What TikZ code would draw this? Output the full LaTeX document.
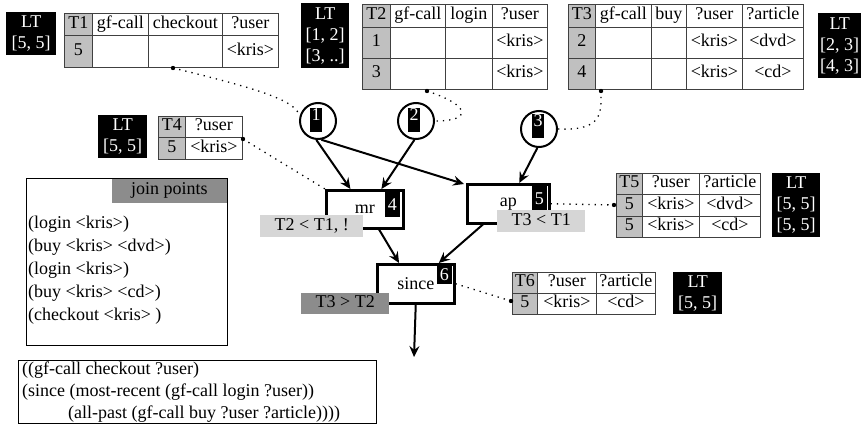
\documentclass[tikz,border=0pt]{standalone}
\usepackage{fontspec}
\setmainfont{Liberation Serif}
\usetikzlibrary{arrows.meta,calc}
\definecolor{tabgray}{HTML}{C0C0C0}
\definecolor{lightlab}{HTML}{D6D6D6}
\definecolor{darklab}{HTML}{8C8C8C}
\newcommand\cellat[7][]{\node[cellbox,#1,minimum width={#5-#3},minimum height={#6-#4}] (#2) at (#3,#4) {#7};}
\begin{document}
\begin{tikzpicture}[x=1pt,y=-1pt,
  every node/.style={font=\fontsize{18}{21}\selectfont},
  cellbox/.style={draw=black!75,line width=0.9pt,anchor=north west,inner sep=0pt,text height=12pt,text depth=4pt,fill=white},
  graycell/.style={fill=tabgray},
  ltbox/.style={fill=black,text=white,anchor=north west,inner sep=0pt,align=center},
  circ/.style={circle,draw,line width=2pt,minimum size=36pt,inner sep=0pt},
  numbox/.style={fill=black,text=white,inner sep=0pt,minimum width=12pt,text height=13pt,text depth=11pt},
  opbox/.style={draw,line width=2.5pt,anchor=north west,inner sep=0pt,fill=white},
  cornernum/.style={fill=black,text=white,anchor=north east,inner sep=0pt,minimum width=15pt,text height=14pt},
  lab/.style={anchor=north west,inner sep=0pt,text height=12pt,text depth=4pt},
  arr/.style={line width=2pt,-{Stealth[length=11pt,width=10pt,inset=4pt]}},
  dotline/.style={line width=1.3pt,dash pattern=on 1.3pt off 5pt},
  linetext/.style={anchor=base west,inner sep=0pt}
]
\path[use as bounding box,fill=white] (0,0) rectangle (861,425);

% ---------- T1 ----------
\node[ltbox,minimum width=50pt,minimum height=43pt] (lt1) at (6,12) {LT\\{}[5, 5]};
\cellat[graycell]{t1a}{64}{13}{92}{35}{T1}
\cellat{t1b}{92}{13}{148}{35}{gf-call}
\cellat{t1c}{148}{13}{222}{35}{checkout}
\cellat{t1d}{222}{13}{278}{35}{?user}
\cellat[graycell]{t1e}{64}{35}{92}{67}{5}
\cellat{t1f}{92}{35}{148}{67}{}
\cellat{t1g}{148}{35}{222}{67}{}
\cellat{t1h}{222}{35}{278}{67}{<kris>}

% ---------- T2 ----------
\node[ltbox,minimum width=48pt,minimum height=65pt] (lt2) at (301,3) {LT\\{}[1, 2]\\{}[3, ..]};
\cellat[graycell]{t2a}{362}{4}{390}{27}{T2}
\cellat{t2b}{390}{4}{445}{27}{gf-call}
\cellat{t2c}{445}{4}{492}{27}{login}
\cellat{t2d}{492}{4}{547}{27}{?user}
\cellat[graycell]{t2e}{362}{27}{390}{58}{1}
\cellat{t2f}{390}{27}{445}{58}{}
\cellat{t2g}{445}{27}{492}{58}{}
\cellat{t2h}{492}{27}{547}{58}{<kris>}
\cellat[graycell]{t2i}{362}{58}{390}{89}{3}
\cellat{t2j}{390}{58}{445}{89}{}
\cellat{t2k}{445}{58}{492}{89}{}
\cellat{t2l}{492}{58}{547}{89}{<kris>}

% ---------- T3 ----------
\cellat[graycell]{t3a}{568}{4}{595}{27}{T3}
\cellat{t3b}{595}{4}{651}{27}{gf-call}
\cellat{t3c}{651}{4}{686}{27}{buy}
\cellat{t3d}{686}{4}{742}{27}{?user}
\cellat{t3e}{742}{4}{803}{27}{?article}
\cellat[graycell]{t3f}{568}{27}{595}{58}{2}
\cellat{t3g}{595}{27}{651}{58}{}
\cellat{t3h}{651}{27}{686}{58}{}
\cellat{t3i}{686}{27}{742}{58}{<kris>}
\cellat{t3j}{742}{27}{803}{58}{<dvd>}
\cellat[graycell]{t3k}{568}{58}{595}{89}{4}
\cellat{t3l}{595}{58}{651}{89}{}
\cellat{t3m}{651}{58}{686}{89}{}
\cellat{t3n}{686}{58}{742}{89}{<kris>}
\cellat{t3o}{742}{58}{803}{89}{<cd>}
\node[ltbox,minimum width=43pt,minimum height=65pt] (lt3) at (818,13) {LT\\{}[2, 3]\\{}[4, 3]};

% ---------- T4 ----------
\node[ltbox,minimum width=49pt,minimum height=43pt] (lt4) at (98,115) {LT\\{}[5, 5]};
\cellat[graycell]{t4a}{158}{116}{185}{137}{T4}
\cellat{t4b}{185}{116}{242}{137}{?user}
\cellat[graycell]{t4c}{158}{137}{185}{159}{5}
\cellat{t4d}{185}{137}{242}{159}{<kris>}

% ---------- T5 ----------
\cellat[graycell]{t5a}{616}{173}{642}{194}{T5}
\cellat{t5b}{642}{173}{699}{194}{?user}
\cellat{t5c}{699}{173}{760}{194}{?article}
\cellat[graycell]{t5d}{616}{194}{642}{216}{5}
\cellat{t5e}{642}{194}{699}{216}{<kris>}
\cellat{t5f}{699}{194}{760}{216}{<dvd>}
\cellat[graycell]{t5g}{616}{216}{642}{237}{5}
\cellat{t5h}{642}{216}{699}{237}{<kris>}
\cellat{t5i}{699}{216}{760}{237}{<cd>}
\node[ltbox,minimum width=48pt,minimum height=64pt] (lt5) at (772,173) {LT\\{}[5, 5]\\{}[5, 5]};

% ---------- T6 ----------
\cellat[graycell]{t6a}{512}{272}{537}{293}{T6}
\cellat{t6b}{537}{272}{596}{293}{?user}
\cellat{t6c}{596}{272}{655}{293}{?article}
\cellat[graycell]{t6d}{512}{293}{537}{314}{5}
\cellat{t6e}{537}{293}{596}{314}{<kris>}
\cellat{t6f}{596}{293}{655}{314}{<cd>}
\node[ltbox,minimum width=49pt,minimum height=42pt] (lt6) at (673,272) {LT\\{}[5, 5]};

% ---------- circles ----------
\node[circ] (c1) at (318,121) {};
\node[circ] (c2) at (416,121) {};
\node[circ] (c3) at (539,129) {};
\node[numbox] (nb1) at (316,120) {1};
\node[numbox] (nb2) at (414,120) {2};
\node[numbox] (nb3) at (538,126) {3};

% ---------- operator boxes ----------
\node[opbox,minimum width=77pt,minimum height=38pt] (mr) at (325,189) {mr};
\node[opbox,minimum width=82pt,minimum height=39pt] (ap) at (466,183) {ap};
\node[opbox,minimum width=77pt,minimum height=39pt] (since) at (376,263) {since};
\node[cornernum,minimum height=27pt] (n4) at (400,190) {4};
\node[cornernum,minimum height=26pt] (n5) at (547,184) {5};
\node[cornernum,minimum height=21pt] (n6) at (452,263) {6};

% ---------- arrows ----------
\coordinate (out) at (414,357);
\draw[arr] (c1.-95) -- ($(mr.north west)!0.32!(mr.north east)$);
\draw[arr] (c1.-80) -- ($(ap.north west)+(-2,1)$);
\draw[arr] (c2.-95) -- ($(mr.north west)!0.71!(mr.north east)$);
\draw[arr] (c3.-95) -- ($(ap.north west)!0.63!(ap.north east)$);
\draw[arr] ($(mr.south west)!0.68!(mr.south east)$) -- ($(since.north west)!0.29!(since.north east)$);
\draw[arr] ($(ap.south west)!0.2!(ap.south east)$) -- ($(since.north west)!0.79!(since.north east)$);
\draw[arr] (since.south) -- (out);

% ---------- labels ----------
\node[lab,fill=lightlab,minimum width=103pt,minimum height=22pt] (lab1) at (260,215) {T2 < T1, !};
\node[lab,fill=lightlab,minimum width=88pt,minimum height=22pt] (lab2) at (497,210) {T3 < T1};
\node[lab,fill=darklab,minimum width=88pt,minimum height=21pt] (lab3) at (301,293) {T3 > T2};

% ---------- dotted links ----------
\coordinate (d1) at (173,68);
\coordinate (d2) at (427,91);
\coordinate (d3) at (601,91);
\coordinate (d4) at (243,139);
\coordinate (d5) at (614,205);
\coordinate (d6) at (511,301);
\draw[dotline] (d1) .. controls (255,88) and (296,100) .. (c1.165);
\draw[dotline] (d2) .. controls (472,106) and (472,121) .. (c2.east);
\draw[dotline] (c3.east) .. controls (604,131) and (601,112) .. (d3);
\draw[dotline] (d4) -- (mr.north west);
\draw[dotline] (ap.east) -- (d5);
\draw[dotline] (since.east) -- (d6);
\foreach \d in {d1,d2,d3,d4,d5,d6} \fill (\d) circle (2.2pt);

% ---------- join points ----------
\node[draw,line width=1.2pt,anchor=north west,inner sep=0pt,minimum width=201pt,minimum height=167pt] (jp) at (26,178) {};
\node[anchor=north west,fill=darklab,inner sep=0pt,minimum width=115pt,minimum height=24pt,text height=12pt,text depth=4pt] (jph) at (111.6,178.6) {join points};
\node[linetext] (jp1) at (28,228) {(login <kris>)};
\node[linetext] (jp2) at (28,251) {(buy <kris> <dvd>)};
\node[linetext] (jp3) at (28,274) {(login <kris>)};
\node[linetext] (jp4) at (28,297) {(buy <kris> <cd>)};
\node[linetext] (jp5) at (28,320) {(checkout <kris> )};

% ---------- query ----------
\node[draw,line width=1.2pt,anchor=north west,inner sep=0pt,minimum width=358pt,minimum height=63pt] (q) at (18,360) {};
\node[linetext] (q1) at (22,374) {((gf-call checkout ?user)};
\node[linetext] (q2) at (22,396) {(since (most-recent (gf-call login ?user))};
\node[linetext] (q3) at (68,418) {(all-past (gf-call buy ?user ?article))))};
\end{tikzpicture}
\end{document}
